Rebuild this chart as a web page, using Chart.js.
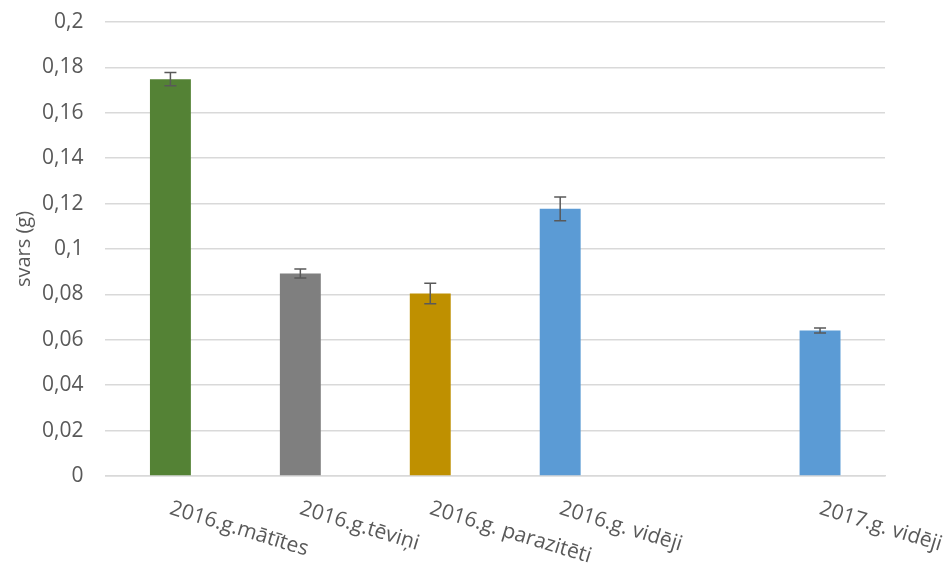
<!DOCTYPE html>
<html><head><meta charset="utf-8">
<script src="https://cdn.jsdelivr.net/npm/chart.js@4/dist/chart.umd.min.js"></script>
<style>html,body{margin:0;padding:0;background:#fff}#wrap{width:949px;height:568px}</style>
</head><body><div id="wrap"><canvas id="c" width="949" height="568"></canvas></div>
<script>
const categories = ["2016.g.mātītes", "2016.g.tēviņi", "2016.g. parazitēti", "2016.g. vidēji", "", "2017.g. vidēji"];
const values = [0.1748, 0.0892, 0.0804, 0.1177, null, 0.0641];
const errors = [0.0029, 0.0020, 0.0045, 0.0052, null, 0.0011];
const barColors = ["#548235", "#7F7F7F", "#BF9000", "#5B9BD5", "#5B9BD5", "#5B9BD5"];
const yTicks = [0, 0.02, 0.04, 0.06, 0.08, 0.1, 0.12, 0.14, 0.16, 0.18, 0.2];

const FONT = "'Open Sans', sans-serif";
const TXT = "#595959";

const errorBars = {
  id: 'errorBars',
  afterDatasetsDraw(chart) {
    const ctx = chart.ctx, y = chart.scales.y;
    const meta = chart.getDatasetMeta(0);
    ctx.save();
    ctx.strokeStyle = TXT; ctx.lineWidth = 1.5;
    meta.data.forEach((bar, i) => {
      if (values[i] == null || errors[i] == null) return;
      const x = bar.x;
      const t = y.getPixelForValue(values[i] + errors[i]);
      const b = y.getPixelForValue(values[i] - errors[i]);
      ctx.beginPath();
      ctx.moveTo(x, t); ctx.lineTo(x, b);
      ctx.moveTo(x - 6, t); ctx.lineTo(x + 6, t);
      ctx.moveTo(x - 6, b); ctx.lineTo(x + 6, b);
      ctx.stroke();
    });
    ctx.restore();
  }
};

const slantLabels = {
  id: 'slantLabels',
  afterDraw(chart) {
    const ctx = chart.ctx, xs = chart.scales.x, area = chart.chartArea;
    ctx.save();
    ctx.fillStyle = TXT;
    ctx.font = "21px " + FONT;
    ctx.textAlign = 'left';
    ctx.textBaseline = 'top';
    categories.forEach((c, i) => {
      if (!c) return;
      const x = xs.getPixelForValue(i);
      ctx.save();
      ctx.translate(x + 3, area.bottom + 22);
      ctx.rotate(17 * Math.PI / 180);
      ctx.fillText(c, 0, 0);
      ctx.restore();
    });
    ctx.restore();
  }
};

new Chart(document.getElementById('c'), {
  type: 'bar',
  data: {
    labels: categories,
    datasets: [{
      data: values,
      backgroundColor: barColors,
      barPercentage: 0.63,
      categoryPercentage: 0.5
    }]
  },
  options: {
    responsive: false,
    animation: false,
    devicePixelRatio: 1,
    layout: { padding: { top: 22, right: 64, bottom: 84, left: 8 } },
    plugins: { legend: { display: false }, tooltip: { enabled: false } },
    scales: {
      x: {
        grid: { display: false },
        border: { color: '#D9D9D9', width: 1.5 },
        ticks: { display: false }
      },
      y: {
        min: 0, max: 0.2,
        afterBuildTicks(scale) { scale.ticks = yTicks.map(v => ({ value: v })); },
        afterFit(scale) { scale.width -= 18; scale.paddingTop = 0; },
        ticks: {
          color: TXT,
          font: { family: FONT, size: 21 },
          padding: 22,
          callback: v => String(+v.toFixed(2)).replace('.', ',')
        },
        grid: { color: '#D9D9D9', lineWidth: 1.5, drawTicks: false },
        border: { display: false },
        title: { display: true, text: 'svars (g)', color: TXT, font: { family: FONT, size: 20 }, padding: { bottom: 2 } }
      }
    }
  },
  plugins: [errorBars, slantLabels]
});
</script></body></html>
